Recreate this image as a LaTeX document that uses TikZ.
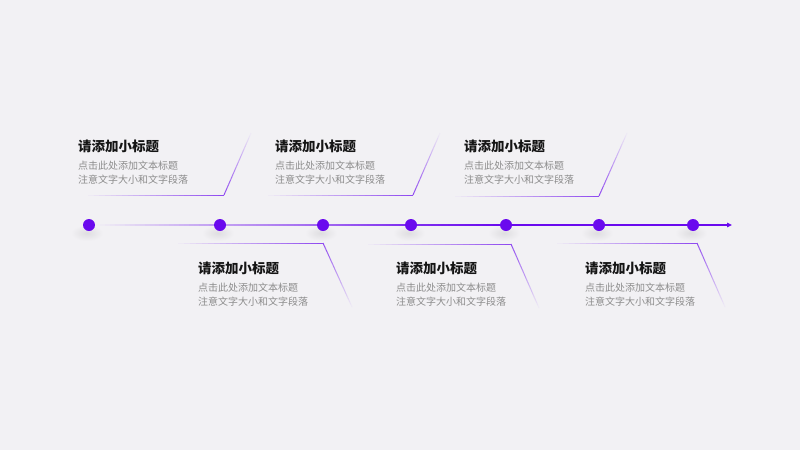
\documentclass[tikz,border=0pt]{standalone}
\usepackage{fontspec}
\setmainfont{Noto Sans CJK SC}
\usetikzlibrary{calc,arrows.meta,positioning}

\definecolor{bg}{HTML}{F2F1F4}
\definecolor{tlpurple}{HTML}{6A0AEE}
\definecolor{titlegray}{HTML}{151515}
\definecolor{subgray}{HTML}{8C8C8C}

% line from #1 (faint) to #2 (strong), #3..#4 percent, width #5
\newcommand{\fadeline}[5]{%
  \foreach \i in {1,...,24}{%
    \pgfmathtruncatemacro\pc{#3+(#4-#3)*\i/24}%
    \draw[line width=#5, tlpurple!\pc!bg] ($(#1)!{(\i-1)/24}!(#2)$) -- ($(#1)!{\i/24}!(#2)$);
  }}

% title with two lines of text
\newcommand{\infoblock}[3]{%
  \node[titletext] (#1t) at (#2,#3) {请添加小标题};
  \node[subtext] (#1a) at ($(#1t.west)+(0,20)$) {点击此处添加文本标题};
  \node[subtext] (#1b) at ($(#1a.west)+(0,14)$) {注意文字大小和文字段落};
}

\tikzset{
  dot/.style={circle, fill=tlpurple, minimum size=12pt, inner sep=0pt},
  tlline/.style={line width=1.5pt, tlpurple},
  titletext/.style={anchor=west, inner sep=0pt, text=titlegray, font=\fontsize{13.5}{15}\selectfont\bfseries},
  subtext/.style={anchor=west, inner sep=0pt, text=subgray, font=\fontsize{10}{12}\selectfont}
}

\begin{document}
\begin{tikzpicture}[x=1pt, y=-1pt]
    \fill[bg] (0,0) rectangle (800,450);
    \useasboundingbox (0,0) rectangle (800,450);

    % dots on the time line
    \foreach \n/\x in {1/89,2/220,3/323,4/411,5/506,6/599,7/693}{
      \shade[inner color=black!8!bg, outer color=bg] (\x-2,233) ellipse (16pt and 8pt);
      \node[dot] (d\n) at (\x,225) {};
    }
    \coordinate (tip) at (732,225);

    \fadeline{d1.east}{d2.west}{0}{35}{1.5pt}
    \fadeline{d2.east}{d3.west}{35}{60}{1.5pt}
    \fadeline{d3.east}{d4.west}{60}{85}{1.5pt}
    \fadeline{d4.east}{d5.west}{85}{100}{1.5pt}
    \draw[tlline] (d5) -- (d6);
    \draw[tlline] (d6) -- (d7);
    \draw[tlline, -{Triangle[length=5pt, width=4.5pt]}] (d7) -- (tip);

    % brackets round the texts
    \foreach \n/\lx/\ly/\cx/\ex/\ey in {
        1/88/195/224/251/133, 2/268/195/413/440/133, 3/455/196/599/627/133,
        4/178/243/323/352/307, 5/368/244/511/539/308, 6/557/243/697/725/307}{
      \coordinate (l\n) at (\lx,\ly);
      \coordinate (c\n) at (\cx,\ly);
      \coordinate (e\n) at (\ex,\ey);
      \fadeline{l\n}{c\n}{0}{72}{1pt}
      \fadeline{e\n}{c\n}{0}{72}{1pt}
    }

    \infoblock{p1}{78}{146}
    \infoblock{p2}{275}{146}
    \infoblock{p3}{464}{146}
    \infoblock{p4}{198}{268}
    \infoblock{p5}{396}{268}
    \infoblock{p6}{585}{268}
\end{tikzpicture}
\end{document}
